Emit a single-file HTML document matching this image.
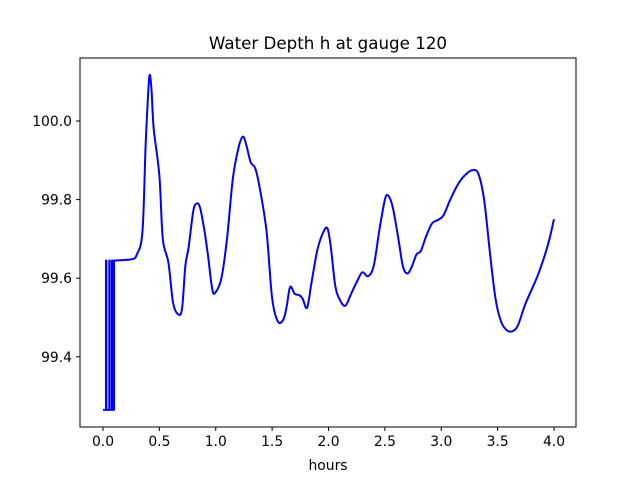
<!DOCTYPE html>
<html><head><meta charset="utf-8"><style>body{margin:0;background:#fff}svg{display:block;font-family:"DejaVu Sans","Liberation Sans",sans-serif}</style></head>
<body>
<svg width="640" height="480">
<rect width="640" height="480" fill="#fff"/>
<text x="328" y="49" font-size="16.7" text-anchor="middle">Water Depth h at gauge 120</text>
<g id="xt"></g><g id="yt"></g>
<path id="line" fill="none" stroke="#0000ff" stroke-width="2" stroke-linejoin="round"/>
<rect x="80" y="58" width="496" height="369" fill="none" stroke="#000" stroke-width="1"/>
<text x="328" y="470" font-size="13.9" text-anchor="middle">hours</text>
</svg>
<script>
const hours=[0,0.027,0.027,0.03,0.03,0.056,0.056,0.059,0.059,0.08,0.08,0.083,0.083,0.098,0.098,0.25,0.3,0.35,0.38,0.41,0.43,0.45,0.5,0.53,0.58,0.62,0.66,0.7,0.73,0.76,0.8,0.83,0.86,0.9,0.93,0.97,1.0,1.05,1.1,1.15,1.2,1.24,1.27,1.31,1.35,1.39,1.45,1.5,1.55,1.6,1.63,1.66,1.7,1.74,1.77,1.81,1.85,1.9,1.95,1.99,2.02,2.06,2.1,2.15,2.2,2.25,2.3,2.35,2.4,2.45,2.5,2.53,2.57,2.62,2.66,2.7,2.74,2.78,2.82,2.87,2.92,2.97,3.02,3.08,3.15,3.22,3.28,3.33,3.38,3.43,3.48,3.53,3.58,3.63,3.68,3.74,3.8,3.86,3.92,3.96,4.0];
const depth=[99.265,99.265,99.645,99.645,99.265,99.265,99.645,99.645,99.265,99.265,99.645,99.645,99.265,99.265,99.645,99.648,99.66,99.72,99.95,100.11,100.08,99.98,99.86,99.70,99.64,99.54,99.51,99.52,99.63,99.68,99.77,99.79,99.78,99.72,99.66,99.57,99.565,99.6,99.7,99.85,99.93,99.96,99.94,99.895,99.88,99.83,99.72,99.55,99.49,99.495,99.53,99.578,99.56,99.557,99.548,99.525,99.59,99.67,99.715,99.727,99.68,99.58,99.545,99.53,99.56,99.59,99.615,99.605,99.63,99.72,99.8,99.81,99.78,99.7,99.63,99.612,99.63,99.66,99.67,99.71,99.74,99.748,99.76,99.80,99.84,99.865,99.875,99.865,99.80,99.67,99.55,99.49,99.468,99.465,99.48,99.53,99.57,99.61,99.66,99.7,99.75];
const xTicks=[0,0.5,1,1.5,2,2.5,3,3.5,4];
const xLabels=["0.0","0.5","1.0","1.5","2.0","2.5","3.0","3.5","4.0"];
const yTicks=[99.4,99.6,99.8,100.0];
const yLabels=["99.4","99.6","99.8","100.0"];
const X=h=>103+h*112.75, Y=v=>121+(100-v)*393;
const NS="http://www.w3.org/2000/svg";
const P=hours.map((h,i)=>[X(h),Y(depth[i])]);
const SPLIT=14;
let d='M'+P[0][0].toFixed(1)+','+P[0][1].toFixed(1);
for(let i=1;i<=SPLIT;i++) d+=' L'+P[i][0].toFixed(1)+','+P[i][1].toFixed(1);
for(let i=SPLIT;i<P.length-1;i++){
 const p0=P[Math.max(i-1,SPLIT)],p1=P[i],p2=P[i+1],p3=P[Math.min(i+2,P.length-1)];
 const c1=[p1[0]+(p2[0]-p0[0])/6,p1[1]+(p2[1]-p0[1])/6];
 const c2=[p2[0]-(p3[0]-p1[0])/6,p2[1]-(p3[1]-p1[1])/6];
 d+=' C'+c1[0].toFixed(1)+','+c1[1].toFixed(1)+' '+c2[0].toFixed(1)+','+c2[1].toFixed(1)+' '+p2[0].toFixed(1)+','+p2[1].toFixed(1);
}
document.getElementById('line').setAttribute('d',d);
const xt=document.getElementById('xt'), yt=document.getElementById('yt');
xTicks.forEach((t,i)=>{
 const l=document.createElementNS(NS,'line');
 
 
 l.setAttribute('x1',X(t));l.setAttribute('x2',X(t));l.setAttribute('y1',427);l.setAttribute('y2',431);l.setAttribute('stroke','#000');xt.appendChild(l);
 const s=document.createElementNS(NS,'text');
 
 
 s.setAttribute('x',X(t));s.setAttribute('y',446);s.setAttribute('font-size','13.9');s.setAttribute('text-anchor','middle');s.textContent=xLabels[i];xt.appendChild(s);
});
yTicks.forEach((t,i)=>{
 const l=document.createElementNS(NS,'line');
 
 
 l.setAttribute('x1',76);l.setAttribute('x2',80);l.setAttribute('y1',Y(t));l.setAttribute('y2',Y(t));l.setAttribute('stroke','#000');yt.appendChild(l);
 const s=document.createElementNS(NS,'text');
 
 
 s.setAttribute('x',72);s.setAttribute('y',Y(t)+5);s.setAttribute('font-size','13.9');s.setAttribute('text-anchor','end');s.textContent=yLabels[i];yt.appendChild(s);
});
</script>
</body></html>
